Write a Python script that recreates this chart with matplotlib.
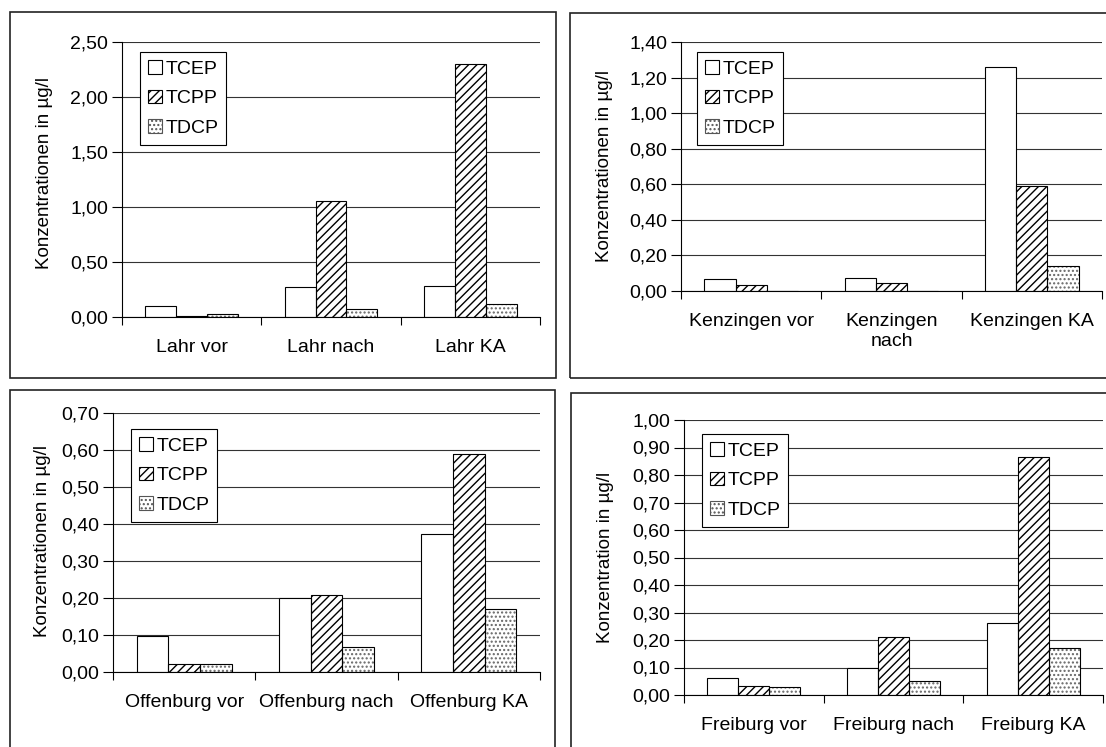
import numpy as np
import matplotlib
matplotlib.use("Agg")
import matplotlib.pyplot as plt
from matplotlib.patches import Rectangle, Patch
from matplotlib.ticker import FuncFormatter, FixedLocator

plt.rcParams["font.family"] = ["Liberation Sans", "DejaVu Sans"]
plt.rcParams["hatch.linewidth"] = 1.0

W, H = 1106, 747
FS = 14

series = ["TCEP", "TCPP", "TDCP"]

lahr_sites = ["Lahr vor", "Lahr nach", "Lahr KA"]
lahr_tcep = [0.10, 0.27, 0.285]
lahr_tcpp = [0.012, 1.05, 2.30]
lahr_tdcp = [0.024, 0.07, 0.118]

kenz_sites = ["Kenzingen vor", "Kenzingen\nnach", "Kenzingen KA"]
kenz_tcep = [0.066, 0.075, 1.26]
kenz_tcpp = [0.032, 0.045, 0.59]
kenz_tdcp = [0.0, 0.0, 0.14]

offb_sites = ["Offenburg vor", "Offenburg nach", "Offenburg KA"]
offb_tcep = [0.096, 0.199, 0.374]
offb_tcpp = [0.022, 0.208, 0.588]
offb_tdcp = [0.022, 0.068, 0.170]

frei_sites = ["Freiburg vor", "Freiburg nach", "Freiburg KA"]
frei_tcep = [0.061, 0.099, 0.261]
frei_tcpp = [0.034, 0.212, 0.864]
frei_tdcp = [0.028, 0.051, 0.170]

HATCHES = [None, "////", "...."]
HATCH_COL = ["black", "black", "#666666"]


def fig_rect(x0, y0, x1, y1):
    # pixel box (top-left origin) -> figure fraction rect
    return [x0 / W, 1 - y1 / H, (x1 - x0) / W, (y1 - y0) / H]


def comma_fmt(v, pos):
    return f"{v:.2f}".replace(".", ",")


def draw_panel(fig, sites, values, ymax, ystep, ylabel,
               ax_px, box_px, leg_px, ylab_px):
    bx0, by0, bx1, by1 = box_px
    fig.add_artist(Rectangle((bx0 / W, 1 - by1 / H), (bx1 - bx0) / W, (by1 - by0) / H,
                             transform=fig.transFigure, fill=False,
                             edgecolor="#222222", linewidth=1.2))

    ax = fig.add_axes(fig_rect(*ax_px))
    x = np.arange(len(sites))
    w = 1 / 4.5
    for i, vals in enumerate(values):
        pos = x + (i - 1) * w
        ax.bar(pos, vals, w, color="white", edgecolor=HATCH_COL[i],
               hatch=HATCHES[i], linewidth=0, zorder=2)
        ax.bar(pos, vals, w, fill=False, edgecolor="black", linewidth=0.8, zorder=3)

    ax.set_xlim(-0.5, len(sites) - 0.5)
    ax.set_ylim(0, ymax)
    ax.set_yticks(np.arange(0, ymax + ystep / 2, ystep))
    ax.yaxis.set_major_formatter(FuncFormatter(comma_fmt))
    ax.set_xticks(x)
    ax.set_xticklabels(sites, linespacing=1.25)
    ax.xaxis.set_minor_locator(FixedLocator(np.arange(-0.5, len(sites), 1.0)))
    ax.tick_params(axis="x", which="major", length=0, pad=16, labelsize=FS)
    ax.tick_params(axis="x", which="minor", length=6, width=0.8, direction="out")
    ax.tick_params(axis="y", length=7, width=0.8, direction="out", pad=3, labelsize=FS)
    for side in ["top", "right"]:
        ax.spines[side].set_visible(False)
    for side in ["left", "bottom"]:
        ax.spines[side].set_linewidth(0.8)
    ax.yaxis.grid(True, color="#333333", linewidth=0.8)
    ax.set_axisbelow(True)
    ax.patch.set_alpha(0)

    handles = [Patch(facecolor="white", edgecolor="black" if i < 2 else "#555555",
                     hatch=HATCHES[i], linewidth=0.8) for i in range(3)]
    leg = ax.legend(handles, series, loc="upper left",
                    bbox_to_anchor=(leg_px[0] / W, 1 - leg_px[1] / H),
                    bbox_transform=fig.transFigure, borderaxespad=0,
                    fancybox=False, edgecolor="black", framealpha=1,
                    fontsize=FS, handlelength=0.72, handleheight=0.72,
                    handletextpad=0.2, labelspacing=0.62, borderpad=0.4)
    leg.get_frame().set_linewidth(0.8)

    fig.text(ylab_px[0] / W, 1 - ylab_px[1] / H, ylabel, rotation=90,
             ha="center", va="center", fontsize=13.5)
    return ax


fig = plt.figure(figsize=(W / 100, H / 100), dpi=100)

draw_panel(fig, lahr_sites, [lahr_tcep, lahr_tcpp, lahr_tdcp], 2.5, 0.5,
           "Konzentrationen in µg/l",
           (122, 42, 540, 317), (10, 12, 556, 378), (140, 52), (45, 173))
draw_panel(fig, kenz_sites, [kenz_tcep, kenz_tcpp, kenz_tdcp], 1.4, 0.2,
           "Konzentrationen in µg/l",
           (681, 42, 1102, 291), (570, 13, 1120, 378), (697, 52), (604, 166))
draw_panel(fig, offb_sites, [offb_tcep, offb_tcpp, offb_tdcp], 0.7, 0.1,
           "Konzentrationen in µg/l",
           (113, 413, 540, 672), (10, 390, 555, 760), (131, 429), (43, 541))
draw_panel(fig, frei_sites, [frei_tcep, frei_tcpp, frei_tdcp], 1.0, 0.1,
           "Konzentration in µg/l",
           (684, 420, 1103, 695), (571, 393, 1120, 760), (702, 434), (605, 557))

fig.savefig("out.png", dpi=100)
plt.close(fig)
